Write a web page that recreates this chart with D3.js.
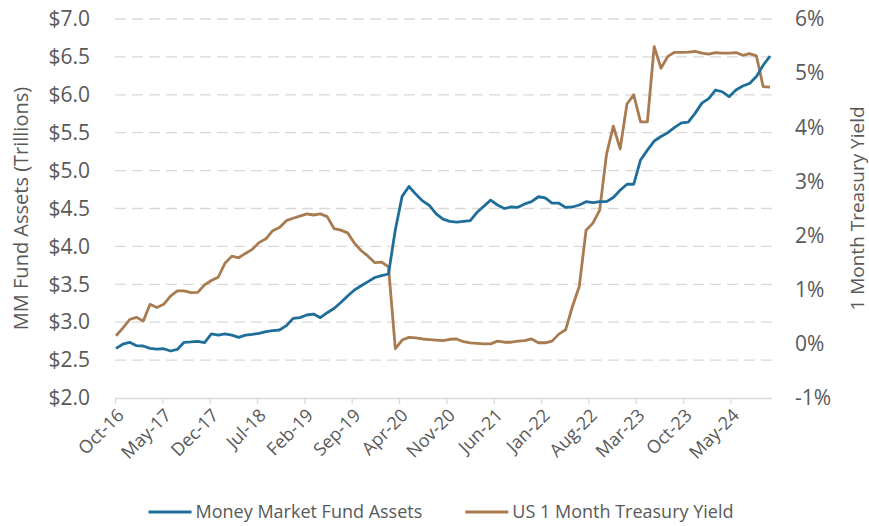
<!DOCTYPE html>
<html>
<head>
<meta charset="utf-8">
<script src="https://cdn.jsdelivr.net/npm/d3@7"></script>
<style>
  body { margin: 0; background: #fff; }
  svg text { font-family: "Open Sans", sans-serif; fill: #595959; }
</style>
</head>
<body>
<svg id="chart" width="869" height="526"></svg>
<script>
const tickLabels = ['Oct-16', 'May-17', 'Dec-17', 'Jul-18', 'Feb-19', 'Sep-19', 'Apr-20',
  'Nov-20', 'Jun-21', 'Jan-22', 'Aug-22', 'Mar-23', 'Oct-23', 'May-24'];
const leftTicks = [2.0, 2.5, 3.0, 3.5, 4.0, 4.5, 5.0, 5.5, 6.0, 6.5, 7.0];
const rightTicks = [-1, 0, 1, 2, 3, 4, 5, 6];

// monthly, Oct-16 .. Oct-24
const mmfAssets = [
  2.655, 2.71, 2.735, 2.69, 2.686, 2.655, 2.646, 2.65, 2.62, 2.64,
  2.735, 2.74, 2.748, 2.73, 2.845, 2.83, 2.845, 2.83, 2.80, 2.83,
  2.84, 2.853, 2.875, 2.888, 2.897, 2.954, 3.05, 3.06, 3.095, 3.108,
  3.06, 3.125, 3.18, 3.26, 3.345, 3.425, 3.48, 3.535, 3.59, 3.615,
  3.636, 4.22, 4.66, 4.79, 4.69, 4.60, 4.54, 4.43, 4.36, 4.33,
  4.32, 4.33, 4.34, 4.45, 4.53, 4.61, 4.546, 4.50, 4.52, 4.515,
  4.56, 4.59, 4.655, 4.64, 4.57, 4.57, 4.515, 4.52, 4.546, 4.59,
  4.577, 4.59, 4.59, 4.645, 4.74, 4.82, 4.82, 5.14, 5.27, 5.39,
  5.45, 5.50, 5.57, 5.63, 5.64, 5.755, 5.89, 5.95, 6.063, 6.04,
  5.975, 6.063, 6.116, 6.15, 6.24, 6.39, 6.51
];
const tbillYield = [
  0.15, 0.29, 0.45, 0.49, 0.42, 0.73, 0.67, 0.73, 0.88, 0.98,
  0.98, 0.945, 0.95, 1.09, 1.17, 1.23, 1.49, 1.62, 1.59, 1.67,
  1.745, 1.87, 1.94, 2.09, 2.15, 2.275, 2.32, 2.36, 2.40, 2.38,
  2.40, 2.35, 2.13, 2.10, 2.05, 1.86, 1.72, 1.62, 1.50, 1.51,
  1.42, -0.09, 0.07, 0.12, 0.11, 0.09, 0.08, 0.07, 0.06, 0.085,
  0.09, 0.04, 0.02, 0.01, 0.0, 0.0, 0.05, 0.03, 0.03, 0.05,
  0.06, 0.09, 0.02, 0.02, 0.05, 0.18, 0.26, 0.69, 1.06, 2.10,
  2.23, 2.47, 3.50, 4.02, 3.60, 4.43, 4.60, 4.10, 4.10, 5.49,
  5.09, 5.31, 5.385, 5.385, 5.39, 5.40, 5.37, 5.35, 5.38, 5.37,
  5.37, 5.38, 5.33, 5.36, 5.32, 4.75, 4.74
];

const BLUE = '#1f6e99';
const BROWN = '#a87b50';
const plot = { left: 115, right: 772, top: 19, bottom: 398 };

const svg = d3.select('#chart');

const x = d3.scaleLinear().domain([0, mmfAssets.length - 1]).range([116, 770]);
const xMonth = d3.scaleLinear().domain([0, 97]).range([plot.left, 771]);
const yL = d3.scaleLinear().domain([2, 7]).range([plot.bottom, plot.top]);
const yR = d3.scaleLinear().domain([-1, 6]).range([plot.bottom, plot.top]);

// dashed gridlines
svg.append('g')
  .selectAll('line')
  .data(leftTicks.slice(1))
  .join('line')
    .attr('x1', plot.left).attr('x2', plot.right)
    .attr('y1', d => yL(d)).attr('y2', d => yL(d))
    .attr('stroke', '#d9d9d9')
    .attr('stroke-width', 1.3)
    .attr('stroke-dasharray', '11,6');

// x axis
const gx = svg.append('g')
  .attr('transform', `translate(0,${plot.bottom})`)
  .call(d3.axisBottom(xMonth)
    .tickValues(tickLabels.map((_, i) => i * 7))
    .tickFormat((d, i) => tickLabels[i])
    .tickSize(6)
    .tickSizeOuter(0));
gx.select('.domain').attr('stroke', '#d9d9d9').attr('stroke-width', 1.3)
  .attr('d', `M${plot.left},0.5H${plot.right}`);
gx.selectAll('.tick line').attr('stroke', '#d9d9d9').attr('stroke-width', 1.3);
gx.selectAll('.tick text')
  .attr('x', 0).attr('y', 0).attr('dy', '0.35em')
  .attr('text-anchor', 'end')
  .attr('transform', 'translate(5,14) rotate(-45)')
  .attr('font-size', 18)
  .style('fill', '#595959');

// left axis
const gl = svg.append('g')
  .attr('transform', 'translate(90,0)')
  .call(d3.axisLeft(yL).tickValues(leftTicks).tickFormat(d => '$' + d.toFixed(1))
    .tickSize(0).tickPadding(0));
gl.select('.domain').remove();
gl.selectAll('text').attr('font-size', 21).style('fill', '#595959');

// right axis
const gr = svg.append('g')
  .attr('transform', 'translate(795,0)')
  .call(d3.axisRight(yR).tickValues(rightTicks).tickFormat(d => `${d}%`)
    .tickSize(0).tickPadding(0));
gr.select('.domain').remove();
gr.selectAll('text').attr('font-size', 21).style('fill', '#595959');

// axis titles
svg.append('text')
  .attr('transform', `translate(21,${(plot.top + plot.bottom) / 2}) rotate(-90)`)
  .attr('text-anchor', 'middle').attr('dy', '0.35em')
  .attr('font-size', 20)
  .text('MM Fund Assets (Trillions)');

svg.append('text')
  .attr('transform', `translate(857,${(plot.top + plot.bottom) / 2}) rotate(-90)`)
  .attr('text-anchor', 'middle').attr('dy', '0.35em')
  .attr('font-size', 19)
  .text('1 Month Treasury Yield');

// series
const lineL = d3.line().x((d, i) => x(i)).y(d => yL(d));
const lineR = d3.line().x((d, i) => x(i)).y(d => yR(d));

svg.append('path')
  .datum(tbillYield)
  .attr('fill', 'none').attr('stroke', BROWN).attr('stroke-width', 2.8)
  .attr('stroke-linejoin', 'round')
  .attr('d', lineR);

svg.append('path')
  .datum(mmfAssets)
  .attr('fill', 'none').attr('stroke', BLUE).attr('stroke-width', 2.8)
  .attr('stroke-linejoin', 'round')
  .attr('d', lineL);

// legend
const legendItems = [
  { label: 'Money Market Fund Assets', color: BLUE },
  { label: 'US 1 Month Treasury Yield', color: BROWN }
];
const legend = svg.append('g').attr('transform', 'translate(0,512)');
const items = legend.selectAll('g').data(legendItems).join('g');
items.append('line')
  .attr('x1', 0).attr('x2', 43).attr('y1', 0).attr('y2', 0)
  .attr('stroke', d => d.color).attr('stroke-width', 3);
items.append('text')
  .attr('x', 47).attr('dy', '0.35em')
  .attr('font-size', 18)
  .text(d => d.label);

let pos = 0;
const widths = [];
items.each(function () {
  widths.push(47 + d3.select(this).select('text').node().getComputedTextLength());
});
const gap = 43;
const total = d3.sum(widths) + gap;
let start = 441 - total / 2;
items.attr('transform', (d, i) => {
  const tx = start + pos;
  pos += widths[i] + gap;
  return `translate(${tx},0)`;
});
</script>
</body>
</html>
